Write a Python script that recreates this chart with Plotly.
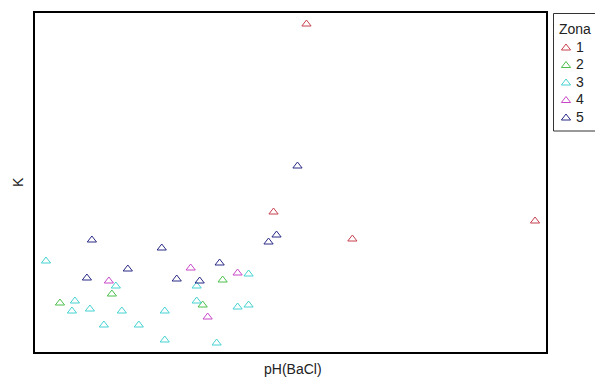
import plotly.graph_objects as go

W, H = 595, 378

zones = ["1", "2", "3", "4", "5"]
colors = ["#C8404E", "#4CC04C", "#48D2D2", "#C848C8", "#2A2A86"]

# pH(BaCl) values (arbitrary units) per zone
ph_z1 = [306, 273, 352, 535]
k_z1 = [328, 140, 113, 131]

ph_z2 = [59, 111, 202, 222]
k_z2 = [49, 58, 47, 72]

ph_z3 = [45, 115, 74, 71, 89, 121, 103, 138, 164, 164, 196, 196, 248, 237, 248, 216]
k_z3 = [91, 66, 51, 41, 43, 41, 27, 27, 41, 12, 66, 51, 78, 45, 47, 9]

ph_z4 = [190, 108, 237, 207]
k_z4 = [84, 71, 79, 35]

ph_z5 = [297, 268, 276, 91, 161, 127, 86, 176, 199, 219]
k_z5 = [186, 110, 117, 112, 104, 83, 74, 73, 71, 89]

ph_all = [ph_z1, ph_z2, ph_z3, ph_z4, ph_z5]
k_all = [k_z1, k_z2, k_z3, k_z4, k_z5]

fig = go.Figure()
for z, c, xs, ys in zip(zones, colors, ph_all, k_all):
    fig.add_trace(go.Scatter(
        x=xs, y=ys, mode="markers", name=z, showlegend=False,
        marker=dict(symbol="triangle-up-open", size=8, color=c, line=dict(width=1, color=c)),
        xaxis="x", yaxis="y",
    ))

# custom legend drawn on a secondary axis (pixel-like coordinates)
leg_x = [566] * len(zones)
leg_y = [48 + 17.5 * i for i in range(len(zones))]
fig.add_trace(go.Scatter(
    x=leg_x, y=leg_y, mode="markers+text", text=[" " + z for z in zones],
    textposition="middle right", textfont=dict(size=14, color="#222", family="Liberation Sans, Arial"),
    marker=dict(symbol="triangle-up-open", size=8, color=colors, line=dict(width=1, color=colors)),
    showlegend=False, xaxis="x2", yaxis="y2", hoverinfo="skip", cliponaxis=False,
))

def py(p):
    return 1 - p / H

def px(p):
    return p / W

fig.update_layout(
    width=W, height=H,
    margin=dict(l=0, r=0, t=0, b=0),
    paper_bgcolor="white", plot_bgcolor="white",
    font=dict(family="Liberation Sans, Arial", size=13, color="#222"),
    xaxis=dict(domain=[px(35), px(546)], range=[34, 546], showticklabels=False, ticks="",
               showgrid=False, zeroline=False, showline=True, mirror=True,
               linecolor="black", linewidth=2),
    yaxis=dict(domain=[py(352), py(13)], range=[0, 339], showticklabels=False, ticks="",
               showgrid=False, zeroline=False, showline=True, mirror=True,
               linecolor="black", linewidth=2),
    xaxis2=dict(domain=[px(553), 1], range=[553, 595], visible=False),
    yaxis2=dict(domain=[py(131), py(13)], range=[131, 13], visible=False),
    shapes=[dict(type="rect", xref="paper", yref="paper",
                 x0=px(553.5), x1=1.05, y0=py(131), y1=py(13.5),
                 line=dict(color="#333", width=1))],
    annotations=[
        dict(text="Zona", xref="paper", yref="paper", x=px(557), y=py(29),
             xanchor="left", yanchor="middle", showarrow=False, font=dict(size=14)),
        dict(text="pH(BaCl)", xref="paper", yref="paper", x=px(293), y=py(369),
             xanchor="center", yanchor="middle", showarrow=False, font=dict(size=14)),
        dict(text="K", xref="paper", yref="paper", x=px(18), y=py(182), textangle=-90,
             xanchor="center", yanchor="middle", showarrow=False, font=dict(size=14)),
    ],
)

fig.write_html("out.html", config={"displayModeBar": False},
               post_script="document.body.style.margin='0';document.body.style.overflow='hidden';")
